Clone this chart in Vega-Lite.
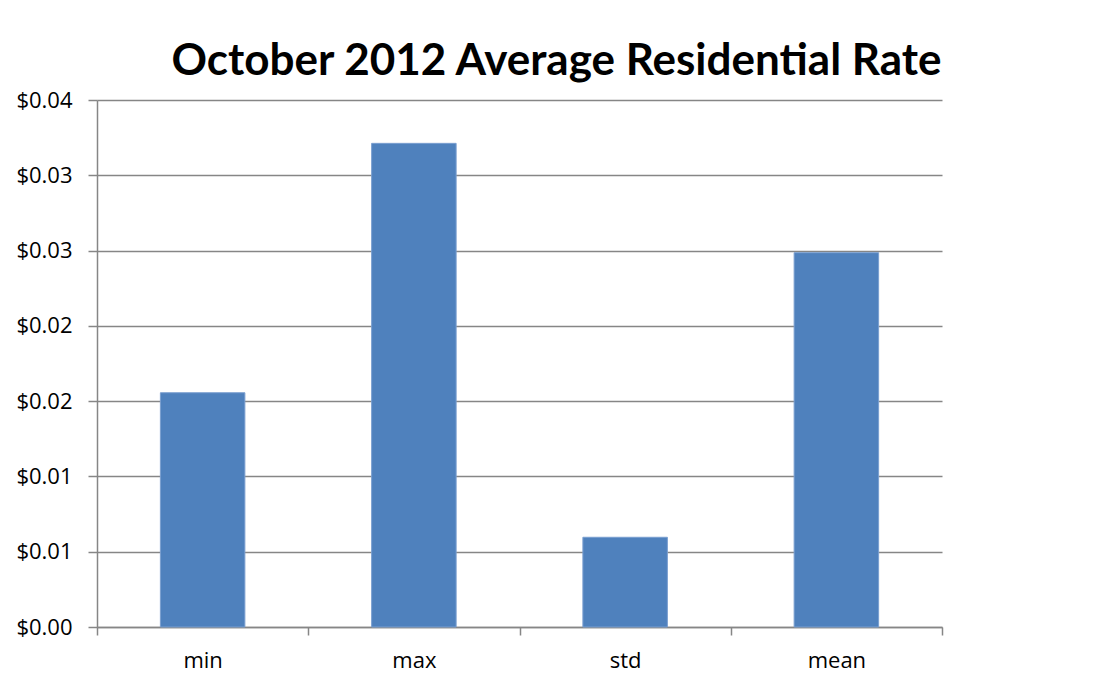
{
  "$schema": "https://vega.github.io/schema/vega-lite/v6.json",
  "width": 845,
  "height": 527,
  "autosize": {"type": "none"},
  "padding": {"left": 97, "top": 100, "right": 159, "bottom": 62},
  "background": "white",
  "title": {
    "text": "October 2012 Average Residential Rate",
    "font": "Lato",
    "fontSize": 44,
    "fontWeight": "bold",
    "color": "black",
    "anchor": "middle",
    "dx": 37,
    "offset": 5
  },
  "data": {
    "values": [
      {"stat": "min", "rate": 0.01778},
      {"stat": "max", "rate": 0.03671},
      {"stat": "std", "rate": 0.00681},
      {"stat": "mean", "rate": 0.02841}
    ]
  },
  "mark": {
    "type": "bar",
    "width": {"band": 0.4},
    "color": "#4F81BD",
    "stroke": "#7A9FD0",
    "strokeWidth": 1
  },
  "encoding": {
    "x": {
      "field": "stat",
      "type": "nominal",
      "sort": null,
      "scale": {"paddingInner": 0, "paddingOuter": 0},
      "axis": {
        "title": null,
        "labelAngle": 0,
        "tickBand": "extent",
        "labelFont": "Open Sans",
        "labelFontSize": 22,
        "labelColor": "black",
        "labelPadding": 15,
        "domainColor": "#868686",
        "domainWidth": 1.5,
        "tickColor": "#868686",
        "tickWidth": 1.5,
        "tickSize": 8,
        "grid": false
      }
    },
    "y": {
      "field": "rate",
      "type": "quantitative",
      "scale": {"domain": [0, 0.04], "nice": false},
      "axis": {
        "title": null,
        "values": [0, 0.0057142857, 0.0114285714, 0.0171428571, 0.0228571429, 0.0285714286, 0.0342857143, 0.04],
        "format": "$.2f",
        "labelFont": "Open Sans",
        "labelFontSize": 22,
        "labelColor": "black",
        "labelPadding": 16,
        "domainColor": "#868686",
        "domainWidth": 1.5,
        "tickColor": "#868686",
        "tickWidth": 1.5,
        "tickSize": 9,
        "grid": true,
        "gridColor": "#868686",
        "gridWidth": 1.5
      }
    }
  },
  "config": {
    "view": {"stroke": null}
  }
}
